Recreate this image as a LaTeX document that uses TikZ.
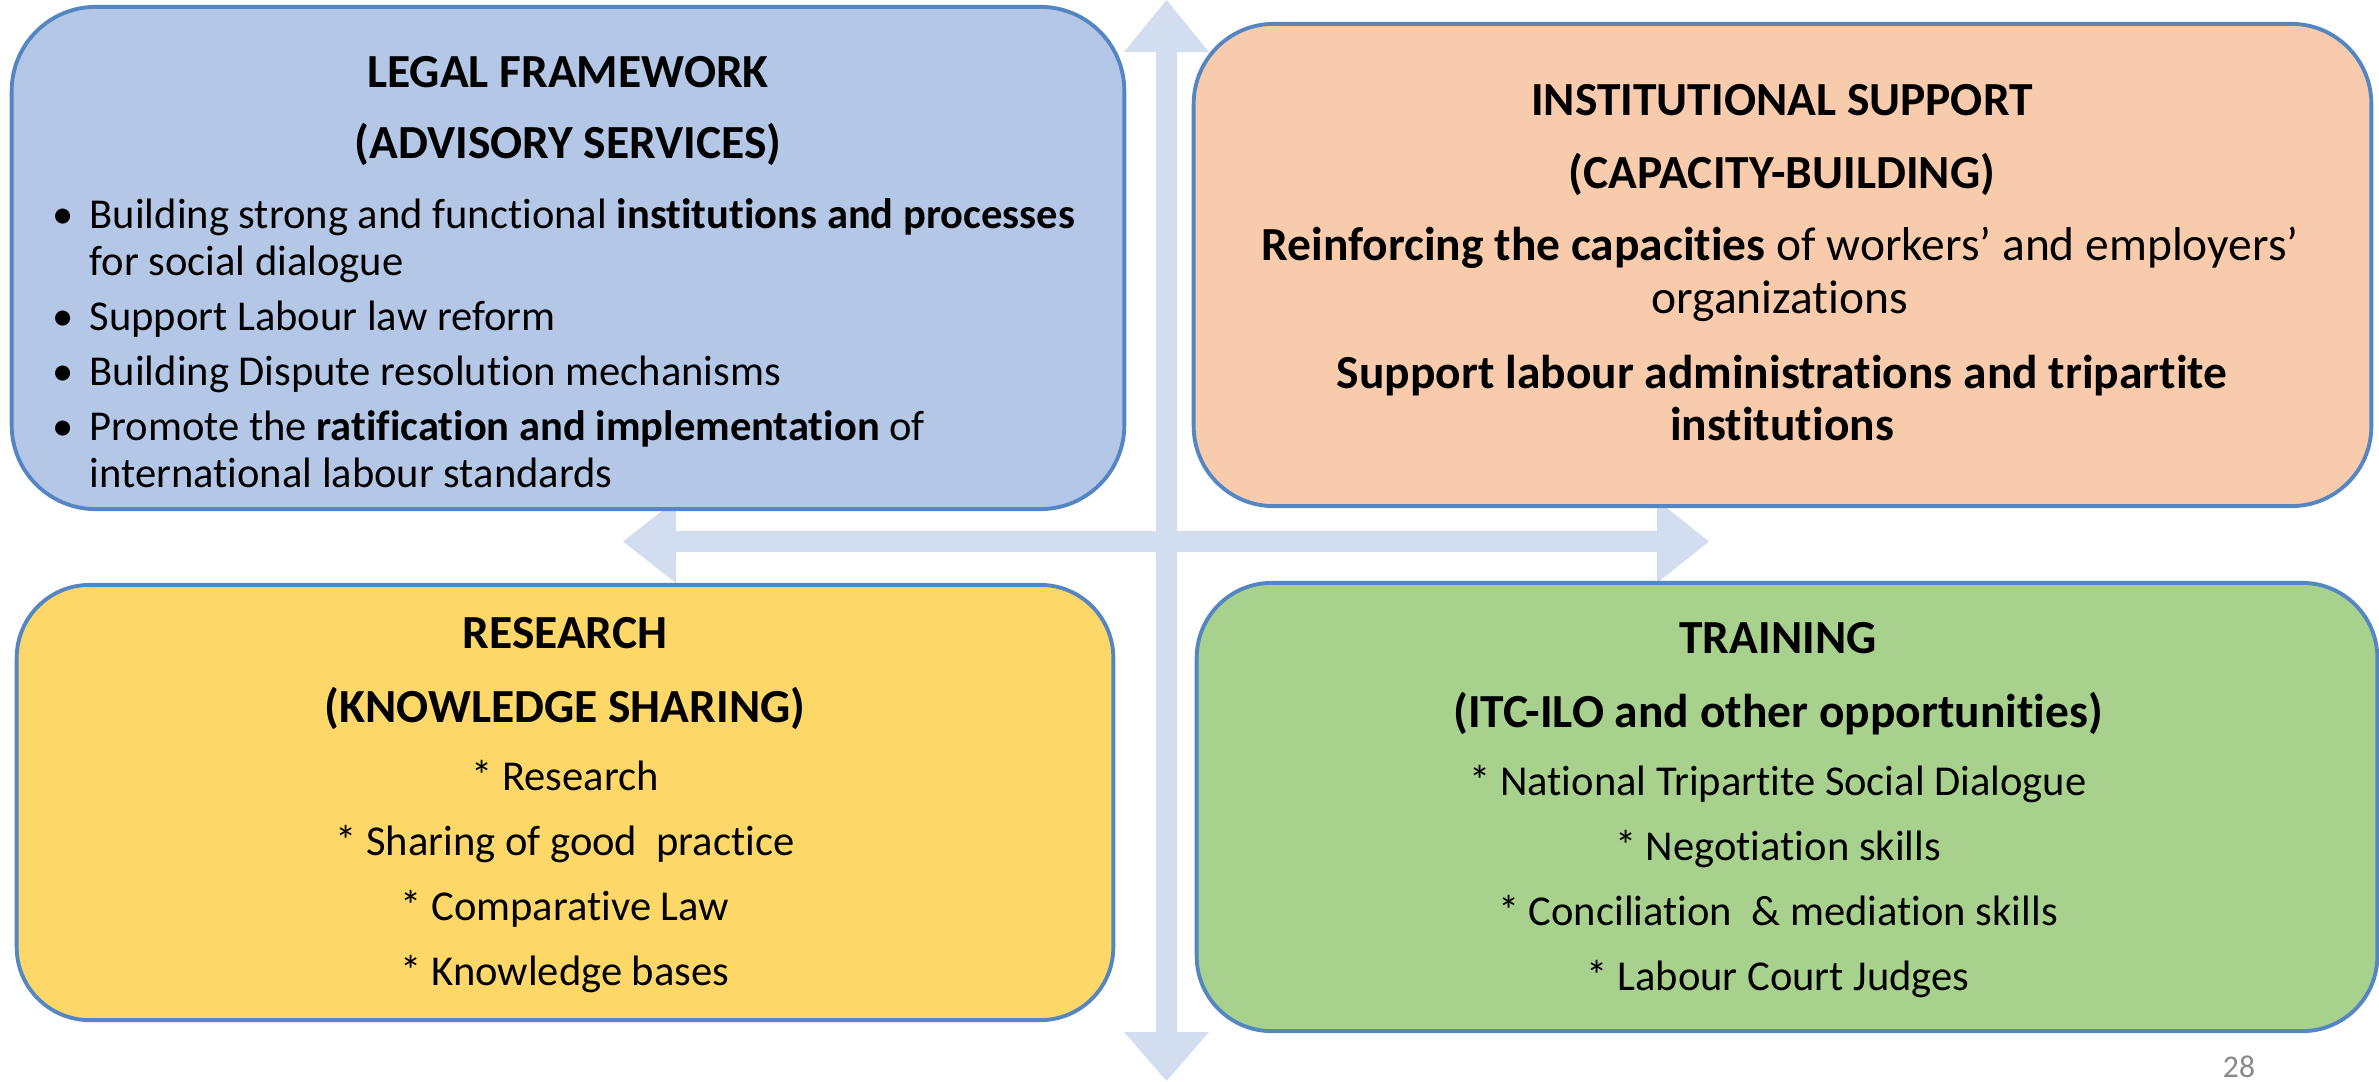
\documentclass[tikz,border=0pt]{standalone}
\usepackage{fontspec}
\setmainfont{Carlito}[Ligatures=NoCommon]
\definecolor{arrowc}{RGB}{210,222,240}
\definecolor{edgec}{RGB}{84,134,196}
\definecolor{bluef}{RGB}{180,199,231}
\definecolor{orangef}{RGB}{248,203,173}
\definecolor{yellowf}{RGB}{253,216,104}
\definecolor{greenf}{RGB}{169,209,142}
\definecolor{pagec}{RGB}{137,137,137}
\begin{document}
\begin{tikzpicture}[x=0.01cm,y=-0.01cm,
  box/.style={draw=edgec,line width=1.1pt,inner sep=0pt,outer sep=0pt},
  ttl/.style={anchor=base,inner sep=0pt,font=\fontsize{13.5}{15}\selectfont\bfseries},
  bodyc/.style={anchor=base,inner sep=0pt,font=\fontsize{12.1}{14}\selectfont},
  bodyl/.style={anchor=base west,inner sep=0pt,font=\fontsize{12.1}{14}\selectfont},
  bodyo/.style={anchor=base,inner sep=0pt,font=\fontsize{13.5}{15}\selectfont},
  bul/.style={anchor=base,inner sep=0pt,font=\fontsize{12.1}{14}\selectfont}]
\useasboundingbox (0,0) rectangle (2379,1081);
% cross arrows
\coordinate (vt) at (1166.5,0);
\coordinate (vb) at (1166.5,1081);
\coordinate (hl) at (623,541.5);
\coordinate (hr) at (1709,541.5);
\fill[arrowc] (vt) -- (1209,52) -- (1177,52) -- (1177,1032) -- (1209,1032) -- (vb)
  -- (1124,1032) -- (1156,1032) -- (1156,52) -- (1124,52) -- cycle;
\fill[arrowc] (hl) -- (676,500) -- (676,531) -- (1657,531) -- (1657,500) -- (hr)
  -- (1657,583) -- (1657,552) -- (676,552) -- (676,583) -- cycle;
% boxes
\node[box,fill=bluef,minimum width=11.12cm,minimum height=5.02cm,rounded corners=0.84cm] (legal) at (568,258) {};
\node[box,fill=orangef,minimum width=11.77cm,minimum height=4.82cm,rounded corners=0.80cm] (inst) at (1782.5,265) {};
\node[box,fill=yellowf,minimum width=10.96cm,minimum height=4.35cm,rounded corners=0.73cm] (res) at (565,802.5) {};
\node[box,fill=greenf,minimum width=11.80cm,minimum height=4.48cm,rounded corners=0.75cm] (train) at (1787,807) {};
% legal framework text
\node[ttl] (l1) at (568,87) {LEGAL FRAMEWORK};
\node[ttl] (l2) at (568,158) {(ADVISORY SERVICES)};
\node[bul] (b1) at (63,228) {•};
\node[bul] (b2) at (63,330) {•};
\node[bul] (b3) at (63,385) {•};
\node[bul] (b4) at (63,440) {•};
\node[bodyl] (l3) at (89,228) {Building strong and functional \textbf{institutions and processes}};
\node[bodyl] (l4) at (89,275) {for social dialogue};
\node[bodyl] (l5) at (89,330) {Support Labour law reform};
\node[bodyl] (l6) at (89,385) {Building Dispute resolution mechanisms};
\node[bodyl] (l7) at (89,440) {Promote the \textbf{ratification and implementation} of};
\node[bodyl] (l8) at (89,487) {international labour standards};
% institutional support text
\node[ttl] (i1) at (1782,115) {INSTITUTIONAL SUPPORT};
\node[ttl] (i2) at (1782,188) {(CAPACITY-BUILDING)};
\node[bodyo] (i3) at (1780,260) {\textbf{Reinforcing the capacities} of workers’ and employers’};
\node[bodyo] (i4) at (1780,313) {organizations};
\node[bodyo] (i5) at (1782,388) {\textbf{Support labour administrations and tripartite}};
\node[bodyo] (i6) at (1782,440) {\textbf{institutions}};
% research text
\node[ttl] (r1) at (565,648) {RESEARCH};
\node[ttl] (r2) at (565,722) {(KNOWLEDGE SHARING)};
\node[bodyc] (r3) at (565,790) {* Research};
\node[bodyc] (r4) at (565,855) {* Sharing of good\ \ practice};
\node[bodyc] (r5) at (565,920) {* Comparative Law};
\node[bodyc] (r6) at (565,985) {* Knowledge bases};
% training text
\node[ttl] (t1) at (1778,653) {TRAINING};
\node[ttl] (t2) at (1778,727) {(ITC-ILO and other opportunities)};
\node[bodyc] (t3) at (1778,795) {* National Tripartite Social Dialogue};
\node[bodyc] (t4) at (1778,860) {* Negotiation skills};
\node[bodyc] (t5) at (1778,925) {* Conciliation\ \ \& mediation skills};
\node[bodyc] (t6) at (1778,990) {* Labour Court Judges};
% page number
\node[anchor=base,inner sep=0pt,text=pagec,font=\fontsize{9}{10}\selectfont] (pg) at (2239,1077) {28};
\end{tikzpicture}
\end{document}
